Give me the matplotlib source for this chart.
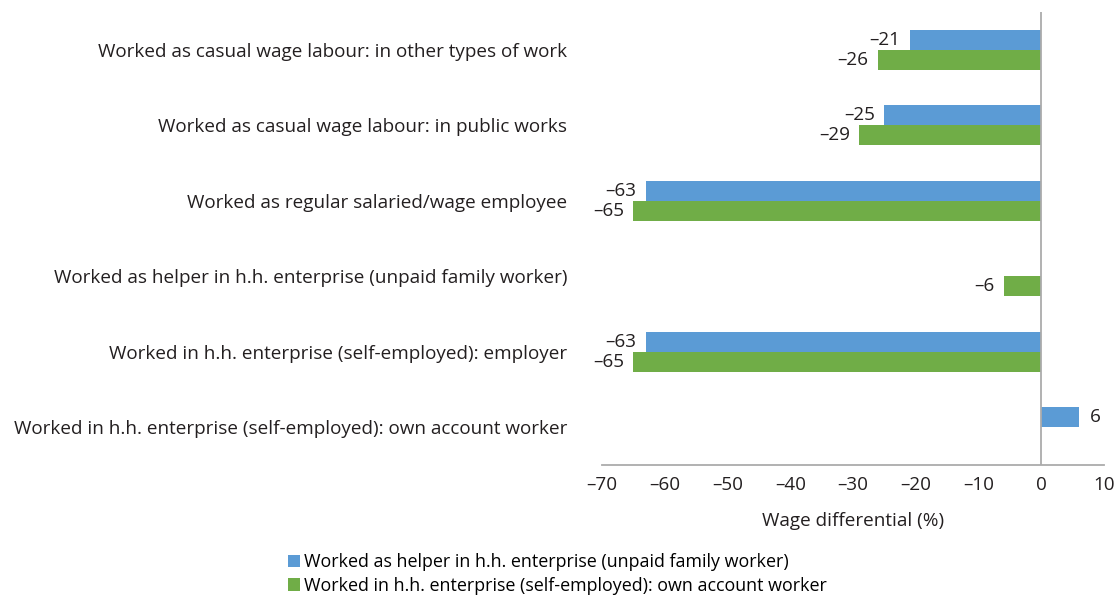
import numpy as np
import matplotlib
matplotlib.use('Agg')
import matplotlib.pyplot as plt

# categories listed top to bottom
categories = [
    "Worked as casual wage labour: in other types of work",
    "Worked as casual wage labour: in public works",
    "Worked as regular salaried/wage employee",
    "Worked as helper in h.h. enterprise (unpaid family worker)",
    "Worked in h.h. enterprise (self-employed): employer",
    "Worked in h.h. enterprise (self-employed): own account worker",
]
helper_vals = [-21, -25, -63, np.nan, -63, 6]
own_account_vals = [-26, -29, -65, -6, -65, np.nan]
series_names = [
    "Worked as helper in h.h. enterprise (unpaid family worker)",
    "Worked in h.h. enterprise (self-employed): own account worker",
]
xticks = [-70, -60, -50, -40, -30, -20, -10, 0, 10]

blue = '#5B9BD5'
green = '#70AD47'
txt = '#231F20'

plt.rcParams['font.family'] = ['Open Sans', 'DejaVu Sans']
fs = 13.6

fig = plt.figure(figsize=(11.18, 5.96), dpi=100)
ax = fig.add_axes([0.5385, 0.2198, 0.449, 0.7602])

y = np.arange(len(categories))
h = 0.265
bars_b = ax.barh(y - h / 2, helper_vals, height=h, color=blue, label=series_names[0])
bars_g = ax.barh(y + h / 2, own_account_vals, height=h, color=green, label=series_names[1])

def fmt(v):
    s = f"{abs(v):.0f}"
    return ("\u2013" + s) if v < 0 else s

for bars, vals in [(bars_b, helper_vals), (bars_g, own_account_vals)]:
    for b, v in zip(bars, vals):
        if np.isnan(v):
            continue
        yc = b.get_y() + b.get_height() / 2
        if v < 0:
            ax.text(v - 1.5, yc, fmt(v), ha='right', va='center', fontsize=fs, color=txt)
        else:
            ax.text(v + 1.7, yc, fmt(v), ha='left', va='center', fontsize=fs, color=txt)

ax.set_xlim(-70, 10)
ax.set_ylim(len(categories) - 0.5, -0.5)
ax.set_yticks(y)
ax.set_yticklabels(categories, fontsize=fs, color=txt)
ax.set_xticks(xticks)
ax.set_xticklabels([fmt(t) for t in xticks], fontsize=fs, color=txt)
ax.tick_params(axis='both', length=0)
ax.tick_params(axis='y', pad=25)
ax.tick_params(axis='x', pad=8)
ax.set_xlabel("Wage differential (%)", fontsize=fs, color=txt, labelpad=13)

for side in ['top', 'right', 'left']:
    ax.spines[side].set_visible(False)
ax.spines['bottom'].set_color('#ABABAB')
ax.spines['bottom'].set_linewidth(1.3)
ax.axvline(0, color='#ABABAB', linewidth=1.3)

fig.legend(handles=[bars_b, bars_g], labels=series_names, loc='lower left',
           bbox_to_anchor=(0.248, -0.016), frameon=False, fontsize=12.9,
           handlelength=0.68, handleheight=0.68, handletextpad=0.2,
           labelspacing=0.3, borderaxespad=0.2)

fig.savefig('out.png', dpi=100)
